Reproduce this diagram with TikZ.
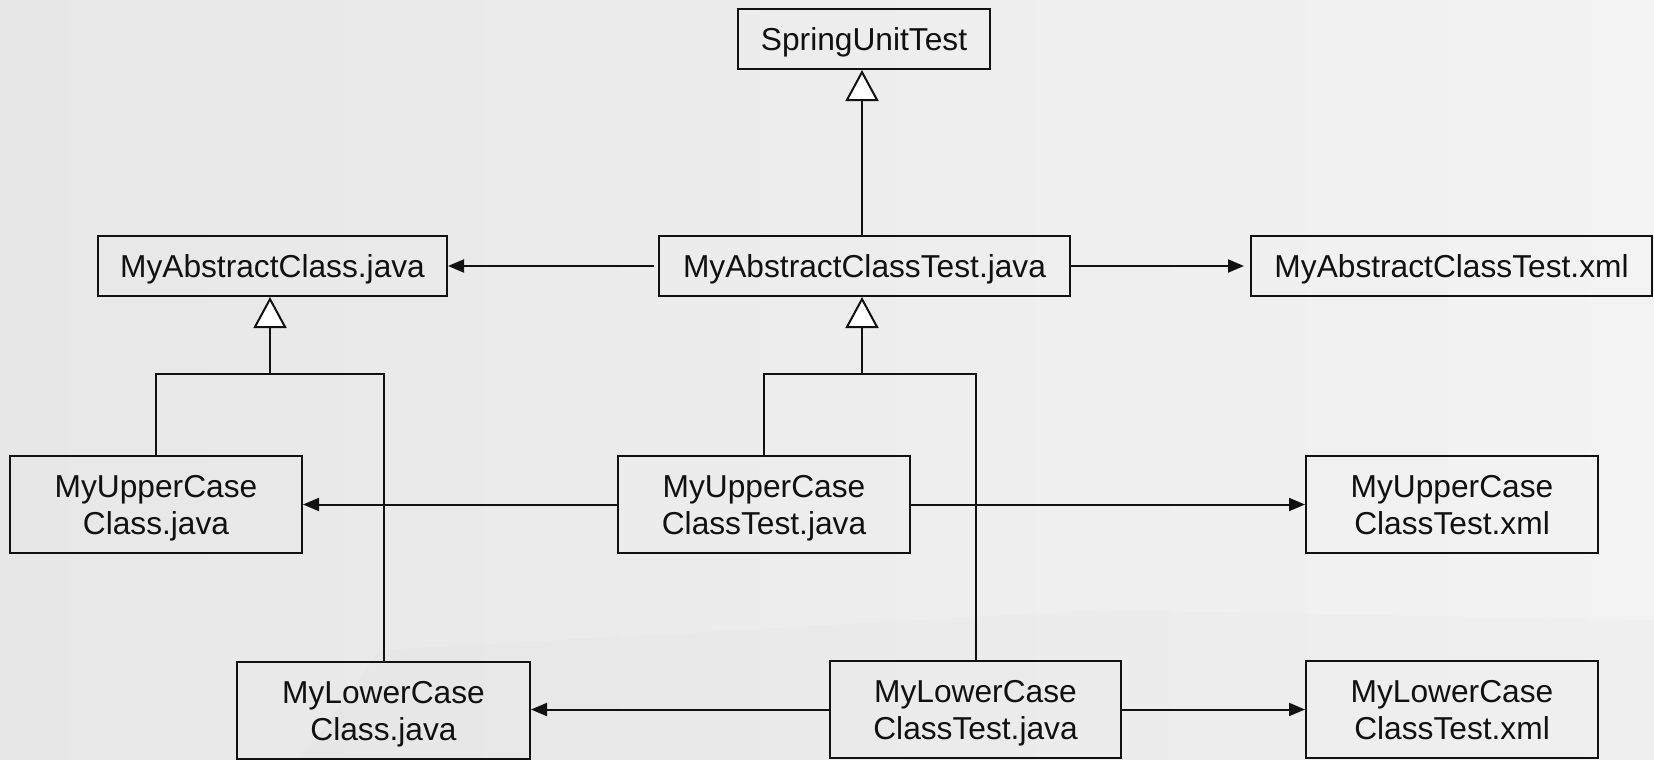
\documentclass[tikz,border=0pt]{standalone}
\usepackage{fontspec}
\setmainfont{Liberation Sans}
\usetikzlibrary{arrows.meta}
\definecolor{bgA}{HTML}{E7E7E7}
\definecolor{bgB}{HTML}{F3F3F3}
\definecolor{ink}{HTML}{111111}
\tikzset{
  cls/.style={draw=ink, line width=2pt, rectangle, inner sep=0pt, align=center,
              text depth=0pt, font=\fontsize{31.7}{37}\selectfont, text=ink},
  dep/.style={draw=ink, line width=2pt, -{Triangle[length=16pt,width=13pt]}},
  inh/.style={draw=ink, line width=2pt, -{Triangle[open,length=31pt,width=33pt,fill=white]}},
  plain/.style={draw=ink, line width=2pt}
}
\begin{document}
\begin{tikzpicture}[x=1pt,y=-1pt]
\useasboundingbox (0,0) rectangle (1654,760);
\shade[left color=bgA, right color=bgB] (0,0) rectangle (1654,760);
\fill[gray!40, opacity=0.07] (380,650) -- (1100,610) -- (1654,620) -- (1654,760) -- (300,760) -- cycle;

% nodes
\node[cls, minimum width=252pt, minimum height=60pt] (spring) at (864,39) {SpringUnitTest};
\node[cls, minimum width=349pt, minimum height=60pt] (abs) at (272.5,266) {MyAbstractClass.java};
\node[cls, minimum width=411pt, minimum height=60pt] (absT) at (864.5,266) {MyAbstractClassTest.java};
\node[cls, minimum width=401pt, minimum height=60pt] (absX) at (1451.5,266) {MyAbstractClassTest.xml};
\node[cls, minimum width=292pt, minimum height=97pt] (upC) at (156,504.5) {MyUpperCase\\Class.java};
\node[cls, minimum width=292pt, minimum height=97pt] (upT) at (764,504.5) {MyUpperCase\\ClassTest.java};
\node[cls, minimum width=292pt, minimum height=97pt] (upX) at (1452,504.5) {MyUpperCase\\ClassTest.xml};
\node[cls, minimum width=293pt, minimum height=97pt] (loC) at (383.5,710.5) {MyLowerCase\\Class.java};
\node[cls, minimum width=291pt, minimum height=97pt] (loT) at (975.5,709.5) {MyLowerCase\\ClassTest.java};
\node[cls, minimum width=292pt, minimum height=97pt] (loX) at (1452,709.5) {MyLowerCase\\ClassTest.xml};

\coordinate (jA) at (270,374);
\coordinate (jT) at (862,374);

% inheritance
\draw[inh] (absT.north -| jT) -- (spring.south -| jT);
\draw[inh] (jA) -- (abs.south -| jA);
\draw[plain] (upC.north) -- (upC.north |- jA) -- (loC.north |- jA) -- (loC.north);
\draw[inh] (jT) -- (absT.south -| jT);
\draw[plain] (upT.north) -- (upT.north |- jT) -- (loT.north |- jT) -- (loT.north);

% dependencies
\draw[dep, shorten <=4pt] (absT.west) -- (abs.east);
\draw[dep, shorten >=6pt] (absT.east) -- (absX.west);
\draw[dep] (upT.west) -- (upC.east);
\draw[dep] (upT.east) -- (upX.west);
\draw[dep] (loT.west) -- (loC.east |- loT.west);
\draw[dep] (loT.east) -- (loX.west);
\end{tikzpicture}
\end{document}
